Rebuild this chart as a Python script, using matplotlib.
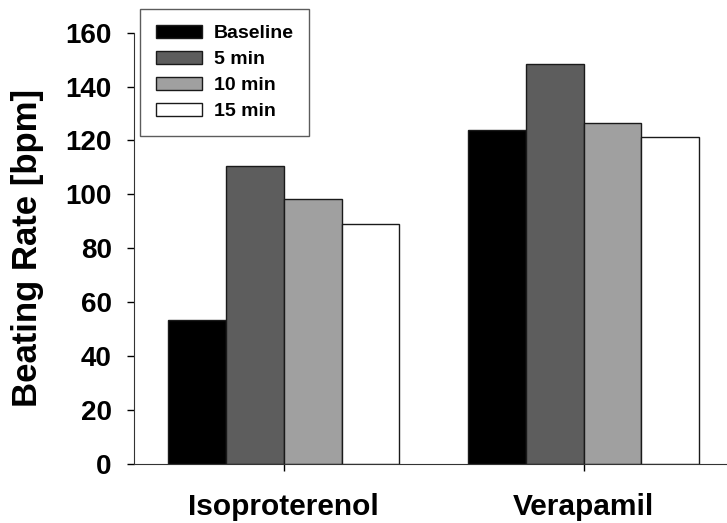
import numpy as np
import matplotlib
matplotlib.use("Agg")
import matplotlib.pyplot as plt

plt.rcParams["font.family"] = ["Liberation Sans", "DejaVu Sans"]
plt.rcParams["font.weight"] = "bold"

# data
drugs = ["Isoproterenol", "Verapamil"]
timepoints = ["Baseline", "5 min", "10 min", "15 min"]
baseline = [53.5, 123.9]
min5 = [110.6, 148.5]
min10 = [98.1, 126.6]
min15 = [88.9, 121.4]
y_ticks = [0, 20, 40, 60, 80, 100, 120, 140, 160]

series = [baseline, min5, min10, min15]
colors = ["#000000", "#5d5d5d", "#a0a0a0", "#ffffff"]

fig = plt.figure(figsize=(7.27, 5.23), dpi=100)
W, H = 727, 523
# axes box in pixels: left spine x=134, bottom y=463.7, top y=32.7, right runs off the figure
ax = fig.add_axes([134 / W, (H - 463.7) / H, (733.5 - 134) / W, (463.7 - 32.7) / H])

x = np.arange(len(drugs))
w = 0.1925
for i, (vals, col) in enumerate(zip(series, colors)):
    ax.bar(x + (i - 1.5) * w, vals, w, color=col, edgecolor="#1a1a1a", linewidth=1.0,
           label=timepoints[i])

ax.set_xlim(-0.5, 1.5)
ax.set_ylim(0, 160)
ax.set_yticks(y_ticks)
ax.set_xticks(x)
ax.set_xticklabels(drugs, fontsize=21.5, fontweight="bold")
ax.tick_params(axis="y", labelsize=20, length=5, width=1, pad=11, direction="out")
ax.tick_params(axis="x", length=5, width=1, pad=16, direction="out")
for lab in ax.get_yticklabels():
    lab.set_fontweight("bold")

ax.spines["top"].set_visible(False)
ax.spines["right"].set_visible(False)
ax.spines["left"].set_color("#333333")
ax.spines["bottom"].set_color("#333333")

fig.text(28 / W, 1 - 248 / H, "Beating Rate [bpm]", rotation=90, ha="center", va="center",
         fontsize=25, fontweight="bold")

leg = ax.legend(loc="upper left", bbox_to_anchor=(140 / W, 1 - 9 / H), bbox_transform=fig.transFigure,
                prop={"size": 14, "weight": "bold"}, frameon=True, fancybox=False,
                handlelength=2.4, handleheight=0.65, handletextpad=0.6, labelspacing=0.45,
                borderpad=0.8, borderaxespad=0)
leg.get_frame().set_edgecolor("#333333")
leg.get_frame().set_linewidth(1.0)

fig.savefig("out.png", dpi=100)
